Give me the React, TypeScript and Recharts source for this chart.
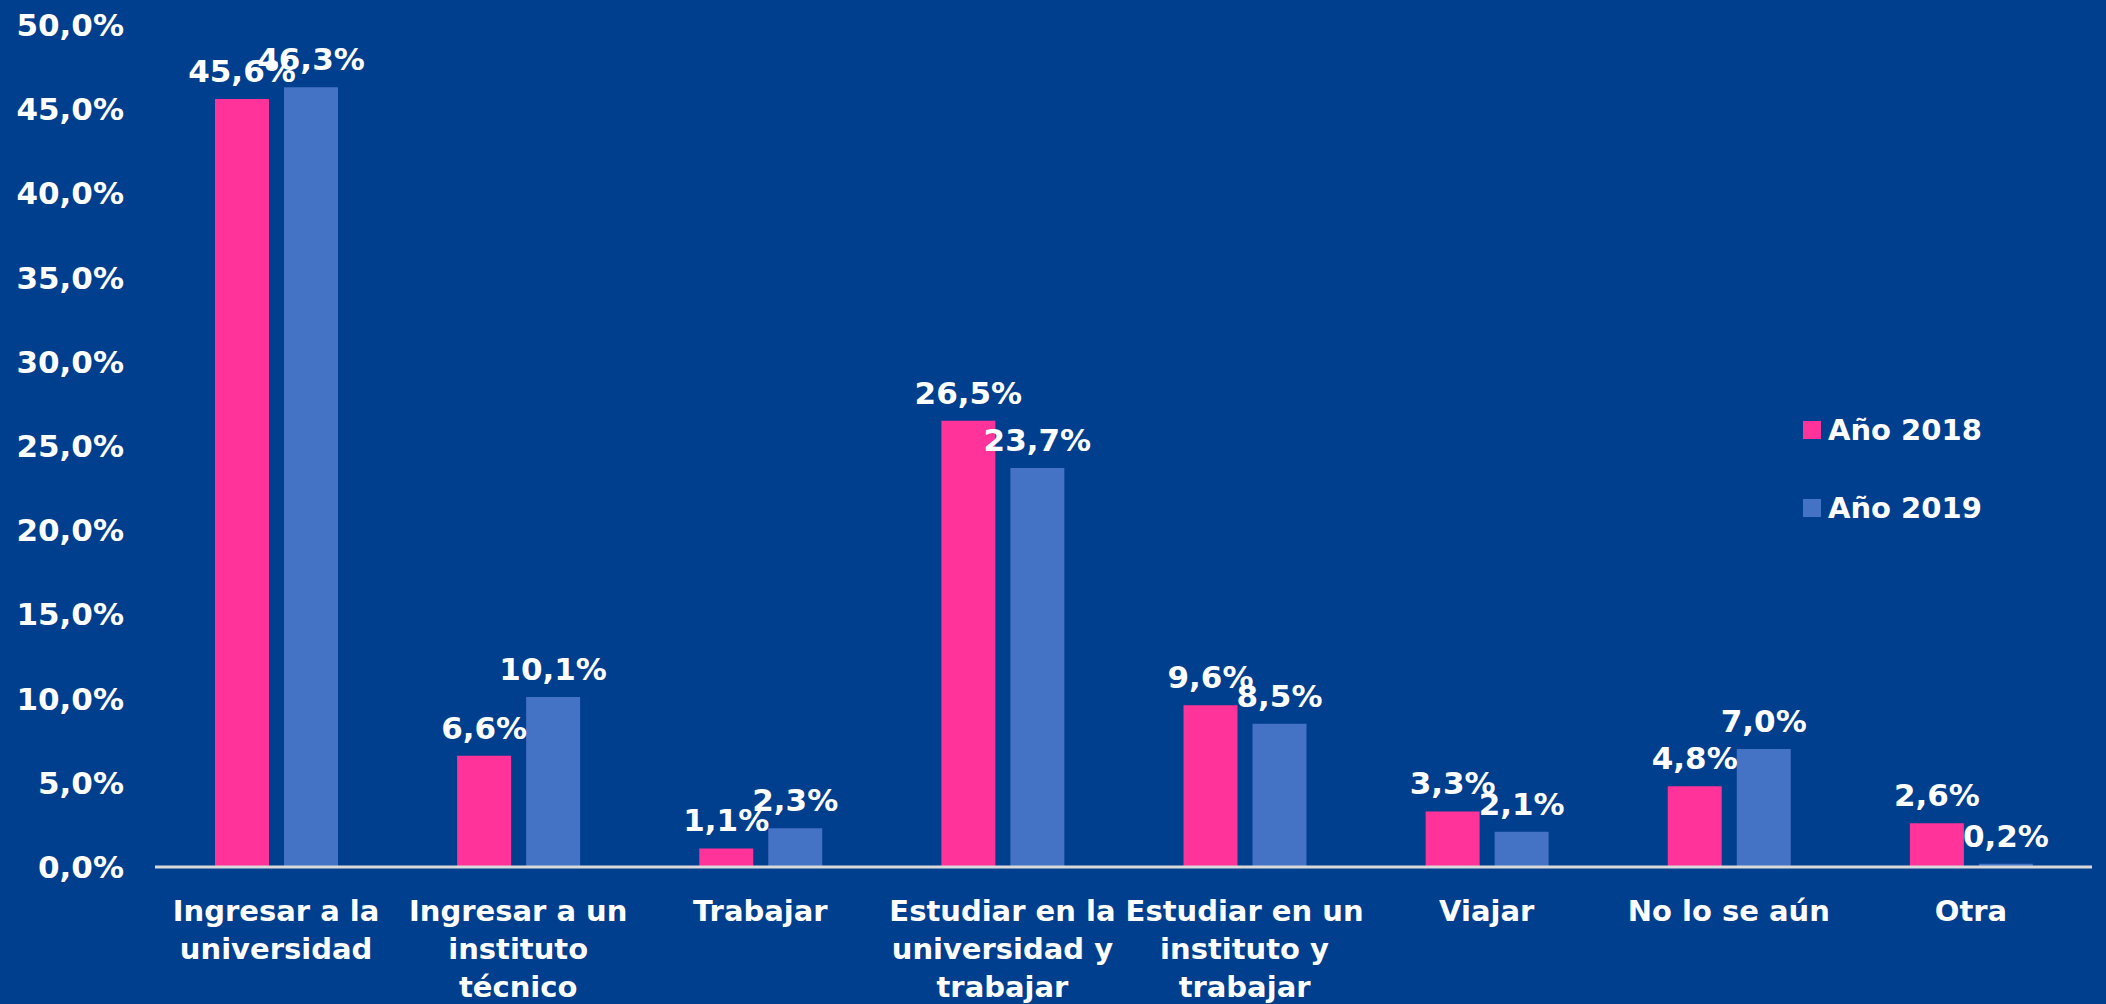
import React from 'react';
import { BarChart, Bar, XAxis, YAxis, Legend, LabelList } from 'recharts';

const categories: string[] = [
  'Ingresar a la universidad',
  'Ingresar a un instituto técnico',
  'Trabajar',
  'Estudiar en la universidad y trabajar',
  'Estudiar en un instituto y trabajar',
  'Viajar',
  'No lo se aún',
  'Otra',
];

const categoryLines: string[][] = [
  ['Ingresar a la', 'universidad'],
  ['Ingresar a un', 'instituto', 'técnico'],
  ['Trabajar'],
  ['Estudiar en la', 'universidad y', 'trabajar'],
  ['Estudiar en un', 'instituto y', 'trabajar'],
  ['Viajar'],
  ['No lo se aún'],
  ['Otra'],
];

const values2018: number[] = [45.6, 6.6, 1.1, 26.5, 9.6, 3.3, 4.8, 2.6];
const values2019: number[] = [46.3, 10.1, 2.3, 23.7, 8.5, 2.1, 7.0, 0.2];

const seriesNames: string[] = ['Año 2018', 'Año 2019'];
const yTicks: number[] = [0, 5, 10, 15, 20, 25, 30, 35, 40, 45, 50];

const BG = '#003E8E';
const PINK = '#FF3399';
const BLUE = '#4472C4';
const FONT = '"DejaVu Sans", Verdana, sans-serif';

const data = categories.map((c, i) => ({
  name: c,
  lines: categoryLines[i],
  v2018: values2018[i],
  v2019: values2019[i],
}));

const fmt = (v: number) => v.toFixed(1).replace('.', ',') + '%';

const XTick = (props: any) => {
  const { x, y, index } = props;
  const lines = categoryLines[index] || [];
  return (
    <text
      x={x}
      y={y}
      textAnchor="middle"
      fill="#FFFFFF"
      fontFamily={FONT}
      fontWeight="bold"
      fontSize={29}
    >
      {lines.map((l, i) => (
        <tspan key={i} x={x} dy={i === 0 ? 54 : 38}>
          {l}
        </tspan>
      ))}
    </text>
  );
};

const YTick = (props: any) => {
  const { x, y, payload } = props;
  return (
    <text
      x={x}
      y={y}
      dy={11}
      textAnchor="end"
      fill="#FFFFFF"
      fontFamily={FONT}
      fontWeight="bold"
      fontSize={31}
    >
      {fmt(payload.value)}
    </text>
  );
};

const renderLabel = (props: any) => {
  const { x, y, width, value } = props;
  return (
    <text
      x={Number(x) + Number(width) / 2}
      y={Number(y) - 17}
      textAnchor="middle"
      fill="#FFFFFF"
      fontFamily={FONT}
      fontWeight="bold"
      fontSize={31}
    >
      {fmt(Number(value))}
    </text>
  );
};

const LegendContent = () => {
  const colors = [PINK, BLUE];
  return (
    <div style={{ fontFamily: FONT, fontWeight: 'bold', fontSize: 29, color: '#FFFFFF' }}>
      {seriesNames.map((n, i) => (
        <div
          key={n}
          style={{ display: 'flex', alignItems: 'center', height: 40, marginBottom: i === 0 ? 38 : 0 }}
        >
          <span
            style={{ display: 'inline-block', width: 18, height: 18, background: colors[i], marginRight: 7 }}
          />
          <span style={{ lineHeight: '40px' }}>{n}</span>
        </div>
      ))}
    </div>
  );
};

export default function App() {
  return (
    <div
      style={{
        position: 'absolute',
        left: 0,
        top: 0,
        width: 2106,
        height: 1004,
        background: BG,
        overflow: 'hidden',
      }}
    >
      <BarChart
        width={2106}
        height={1004}
        data={data}
        margin={{ top: 25, right: 14, bottom: 0, left: 0 }}
        barSize={54}
        barGap={15}
      >
        <YAxis
          width={155}
          domain={[0, 50]}
          ticks={yTicks}
          axisLine={false}
          tickLine={false}
          tickSize={0}
          tickMargin={31}
          interval={0}
          tick={<YTick />}
        />
        <XAxis
          dataKey="name"
          height={137}
          interval={0}
          tickLine={false}
          tickSize={0}
          tickMargin={0}
          axisLine={{ stroke: '#D9D9D9', strokeWidth: 3 }}
          tick={<XTick />}
        />
        <Legend
          layout="horizontal"
          verticalAlign="middle"
          align="center"
          content={<LegendContent />}
          wrapperStyle={{ position: 'absolute', left: 1803, top: 410, width: 250, height: 160 }}
        />
        <Bar dataKey="v2018" name={seriesNames[0]} fill={PINK} isAnimationActive={false}>
          <LabelList dataKey="v2018" content={renderLabel} />
        </Bar>
        <Bar dataKey="v2019" name={seriesNames[1]} fill={BLUE} isAnimationActive={false}>
          <LabelList dataKey="v2019" content={renderLabel} />
        </Bar>
      </BarChart>
    </div>
  );
}
